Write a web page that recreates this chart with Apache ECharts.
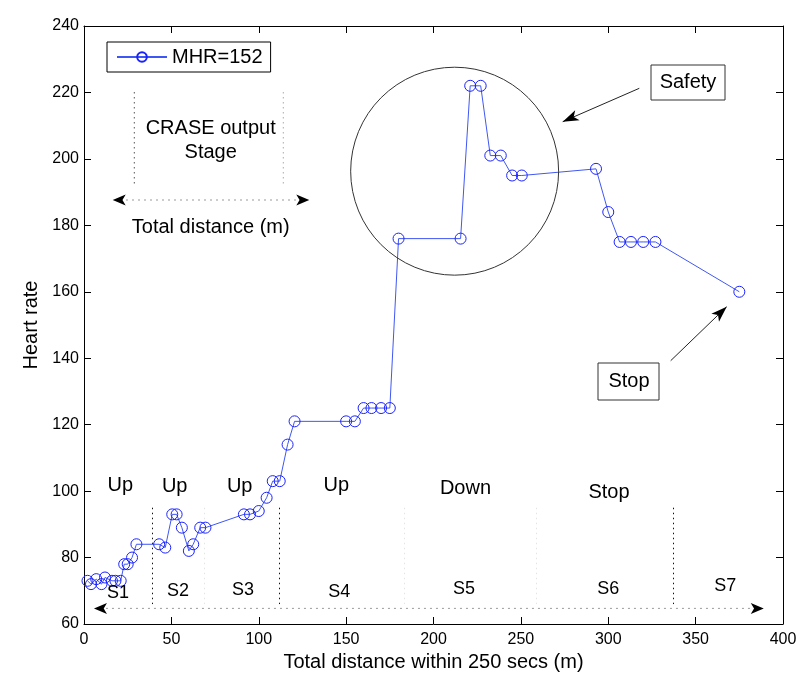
<!DOCTYPE html>
<html lang="en">
<head>
<meta charset="UTF-8">
<title>Heart rate</title>
<script src="https://cdn.jsdelivr.net/npm/echarts@6/dist/echarts.min.js"></script>
<style>html,body{margin:0;padding:0;background:#fff;}</style>
</head>
<body>
<div id="main" style="width:812px;height:686px;"></div>
<script type="text/javascript">
// distance (m) and heart rate
var dist = [2, 4, 7, 10, 12, 16, 18, 21, 23, 25, 27.5, 30, 43, 46.5, 50.5, 53, 56, 60, 62.5, 66.5, 69.5,
    91.5, 95, 100, 104.5, 108, 112, 116.5, 120.5, 150, 155, 160, 164.5, 170, 175, 180, 215.5,
    221, 227, 232.5, 238.5, 245, 250.5, 293, 300, 306.5, 313, 320, 327, 375];
var hr = [73, 72, 73.5, 72, 74, 73, 73, 73, 78, 78, 80, 84, 84, 83, 93, 93, 89, 82, 84, 89, 89,
    93, 93, 94, 98, 103, 103, 114, 121, 121, 121, 125, 125, 125, 125, 176, 176,
    222, 222, 201, 201, 195, 195, 197, 184, 175, 175, 175, 175, 160];

// stage annotations
var stageNames = ['S1', 'S2', 'S3', 'S4', 'S5', 'S6', 'S7'];
var stageX = [19.5, 53.8, 91, 146, 217.5, 300, 367];
var stageY = [69.4, 70, 70.2, 69.7, 70.4, 70.4, 71.4];
var modeNames = ['Up', 'Up', 'Up', 'Up', 'Down', 'Stop'];
var modeX = [20.8, 51.9, 89.1, 144.4, 218.3, 300.4];
var modeY = [101.8, 101.3, 101.5, 101.8, 100.8, 99.6];
var darkBounds = [39, 111.5, 337];
var faintBounds = [69, 183.5, 259];

var FONT = '"Liberation Sans", Arial, Helvetica, sans-serif';
var myChart = echarts.init(document.getElementById('main'));

var points = dist.map(function (d, i) { return [d, hr[i]]; });

function bounds(list) {
    return list.map(function (x) { return [{coord: [x, 95]}, {coord: [x, 66]}]; });
}

function boxAxis(pos, min, max, step, show, isX) {
    var a = {
        type: 'value', position: pos, min: min, max: max, interval: step,
        axisLine: {show: true, onZero: false, lineStyle: {color: '#000', width: 1}},
        axisTick: {show: true, inside: true, length: 7, lineStyle: {color: '#000'}},
        axisLabel: {show: show, color: '#000', fontSize: 16, fontFamily: FONT, margin: isX ? 8 : 5},
        splitLine: {show: false}
    };
    return a;
}

var xMain = boxAxis('bottom', 0, 400, 50, true, true);
xMain.name = 'Total distance within 250 secs (m)';
xMain.nameLocation = 'middle';
xMain.nameGap = 26;
xMain.nameTextStyle = {fontSize: 20, color: '#000', fontFamily: FONT};
var yMain = boxAxis('left', 60, 240, 20, true, false);
yMain.name = 'Heart rate';
yMain.nameLocation = 'middle';
yMain.nameGap = 42;
yMain.nameTextStyle = {fontSize: 20, color: '#000', fontFamily: FONT};

myChart.setOption({
    animation: false,
    textStyle: {fontFamily: FONT},
    grid: {left: 84, top: 26, right: 29, bottom: 62},
    legend: {
        data: ['MHR=152'], left: 107, top: 42,
        padding: [5, 8, 5, 9], itemWidth: 50, itemHeight: 12,
        backgroundColor: '#fff', borderColor: '#000', borderWidth: 1, borderRadius: 0,
        textStyle: {fontSize: 20, color: '#000', fontFamily: FONT}
    },
    xAxis: [xMain, boxAxis('top', 0, 400, 50, false, true)],
    yAxis: [yMain, boxAxis('right', 60, 240, 20, false, false)],
    series: [
        {
            name: 'MHR=152', type: 'line', data: points, z: 5,
            symbol: 'circle', symbolSize: 11, showAllSymbol: true,
            itemStyle: {color: 'rgba(0,0,0,0)', borderColor: '#1a22ff', borderWidth: 1},
            lineStyle: {color: '#3f57f2', width: 1}
        },
        {
            type: 'line', data: [], silent: true,
            markLine: {silent: true, symbol: 'none', label: {show: false},
                lineStyle: {type: [1.5, 3.5], color: '#111', width: 1}, data: bounds(darkBounds)}
        },
        {
            type: 'line', data: [], silent: true,
            markLine: {silent: true, symbol: 'none', label: {show: false},
                lineStyle: {type: [1.5, 3.5], color: '#e4e4e4', width: 1}, data: bounds(faintBounds)}
        }
    ]
});

function px(x, y) { return myChart.convertToPixel({gridIndex: 0}, [x, y]); }

// filled arrow head pointing at tip, coming from "from"
function head(tip, from, len, half) {
    var dx = tip[0] - from[0], dy = tip[1] - from[1];
    var l = Math.sqrt(dx * dx + dy * dy), ux = dx / l, uy = dy / l;
    var bx = tip[0] - ux * len, by = tip[1] - uy * len;
    var nx = tip[0] - ux * len * 0.75, ny = tip[1] - uy * len * 0.75;
    return {
        type: 'polygon', silent: true, z: 20,
        shape: {points: [tip, [bx - uy * half, by + ux * half], [nx, ny], [bx + uy * half, by - ux * half]]},
        style: {fill: '#000'}
    };
}
function arrowLine(a, b, dash, color) {
    return {type: 'line', silent: true, z: 20, shape: {x1: a[0], y1: a[1], x2: b[0], y2: b[1]},
        style: {stroke: color, lineWidth: 1, lineDash: dash}};
}
function txt(x, y, s, size) {
    return {type: 'text', x: x, y: y, silent: true, z: 22,
        style: {text: s, fontSize: size, fontFamily: FONT, fill: '#000', align: 'center', verticalAlign: 'middle'}};
}
function box(x, y, w, h) {
    return {type: 'rect', silent: true, z: 21, shape: {x: x, y: y, width: w, height: h},
        style: {fill: '#fff', stroke: '#333', lineWidth: 1}};
}

var c = px(212.1, 196.3);
var r = px(212.1 + 59.5, 196.3)[0] - c[0];
var bl = px(5.7, 64.7), br = px(389, 64.7);

var g = [
    {type: 'circle', silent: true, z: 19, shape: {cx: c[0], cy: c[1], r: r},
        style: {fill: 'none', stroke: '#333', lineWidth: 1}},
    // stage distance arrow at the bottom
    arrowLine([bl[0] + 12, bl[1]], [br[0] - 12, br[1]], [2, 4], '#999'),
    head(bl, br, 13, 5.5), head(br, bl, 13, 5.5),
    // CRASE output inset
    arrowLine([134.3, 92], [134.3, 185], [1.5, 3.5], '#555'),
    arrowLine([283.3, 92], [283.3, 185], [1.5, 3.5], '#aaa'),
    arrowLine([126, 200], [296, 200], [2, 4], '#999'),
    head([112.7, 200], [309, 200], 13, 5.5), head([309.3, 200], [113, 200], 13, 5.5),
    txt(210.7, 128, 'CRASE output', 20),
    txt(210.7, 152, 'Stage', 20),
    txt(210.7, 227, 'Total distance (m)', 20),
    // Safety / Stop call-outs
    arrowLine([639.3, 88.3], [562.7, 121.7], null, '#222'),
    head([562.7, 121.7], [639.3, 88.3], 16, 5.5),
    box(651, 65, 74, 35), txt(688, 82.5, 'Safety', 20),
    arrowLine([670.7, 360.7], [726.7, 306.7], null, '#222'),
    head([726.7, 306.7], [670.7, 360.7], 16, 5.5),
    box(598, 363, 61, 37), txt(629, 381.5, 'Stop', 20)
];
// stage names and movement labels, placed through the axes
stageNames.forEach(function (s, i) {
    var p = px(stageX[i], stageY[i]);
    g.push(txt(p[0], p[1], s, 18));
});
modeNames.forEach(function (s, i) {
    var p = px(modeX[i], modeY[i]);
    g.push(txt(p[0], p[1], s, 20));
});
myChart.setOption({graphic: g});
</script>
</body>
</html>
